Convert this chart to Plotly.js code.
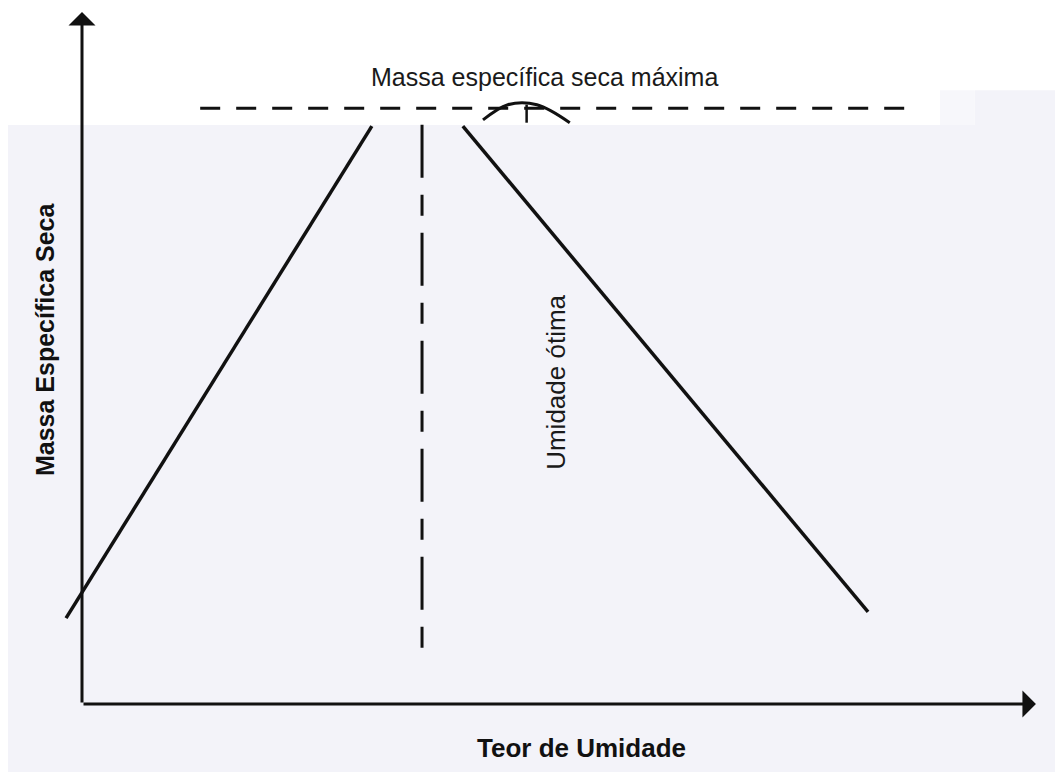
<!DOCTYPE html>
<html>
<head>
<meta charset="utf-8">
<script src="https://cdn.plot.ly/plotly-3.0.1.min.js"></script>
<style>
  html, body { margin: 0; padding: 0; background: #ffffff; }
  #chart { width: 1055px; height: 772px; }
</style>
</head>
<body>
<div id="chart"></div>
<script>
// schematic compaction curve (arbitrary units)
var dryMoisture = [-1.7, 30.9];
var dryDensity = [12.4, 83.5];
var wetMoisture = [40.6, 83.8];
var wetDensity = [83.5, 13.3];

var maxDensity = 86.1;
var maxDensityFrom = 12.6, maxDensityTo = 89.3;
var optMoisture = 36.25;
var optFrom = 6.4, optTo = 83.7;

// little bracket on top of the peak
var capMoisture = [42.75, 45.4, 48.5, 52.0];
var capDensity = [84.4, 86.6, 86.6, 84.0];
var tickMoisture = [47.4, 47.4];
var tickDensity = [84.0, 86.6];

var axisEndX = 101.7;
var axisEndY = 100;

var ink = '#111111';

var traces = [
  {x: dryMoisture, y: dryDensity, mode: 'lines', line: {color: ink, width: 3.5}},
  {x: wetMoisture, y: wetDensity, mode: 'lines', line: {color: ink, width: 3.5}},
  {x: [maxDensityFrom, maxDensityTo], y: [maxDensity, maxDensity], mode: 'lines',
   line: {color: ink, width: 3, dash: '20px,16px'}},
  {x: [optMoisture, optMoisture], y: [optTo, optFrom], mode: 'lines',
   line: {color: ink, width: 3, dash: '53px,17px,21px,17px'}},
  {x: capMoisture, y: capDensity, mode: 'lines', line: {color: ink, width: 3, shape: 'spline'}},
  {x: tickMoisture, y: tickDensity, mode: 'lines', line: {color: ink, width: 2.5}}
];

var face = 'Liberation Sans, Arial, sans-serif';

var layout = {
  width: 1055,
  height: 772,
  margin: {l: 0, r: 0, t: 0, b: 0},
  paper_bgcolor: '#ffffff',
  plot_bgcolor: 'rgba(0,0,0,0)',
  showlegend: false,
  xaxis: {range: [-8.742, 103.73], visible: false, fixedrange: true},
  yaxis: {range: [-9.827, 101.73], visible: false, fixedrange: true},
  shapes: [
    {type: 'rect', xref: 'paper', yref: 'paper', x0: 0.0076, x1: 1, y0: 0, y1: 0.838,
     fillcolor: '#f3f3f9', line: {width: 0}, layer: 'below'},
    {type: 'rect', xref: 'paper', yref: 'paper', x0: 0.924, x1: 1, y0: 0.838, y1: 0.883,
     fillcolor: '#f3f3f9', line: {width: 0}, layer: 'below'},
    {type: 'rect', xref: 'paper', yref: 'paper', x0: 0.891, x1: 0.924, y0: 0.838, y1: 0.883,
     fillcolor: '#f7f7fb', line: {width: 0}, layer: 'below'}
  ],
  annotations: [
    // axes with arrow heads
    {x: 0, y: axisEndY, ax: 0, ay: 0, xref: 'x', yref: 'y', axref: 'x', ayref: 'y',
     showarrow: true, arrowhead: 1, arrowsize: 1.5, arrowwidth: 3, arrowcolor: ink, text: ''},
    {x: axisEndX, y: 0, ax: 0, ay: 0, xref: 'x', yref: 'y', axref: 'x', ayref: 'y',
     showarrow: true, arrowhead: 1, arrowsize: 1.5, arrowwidth: 3, arrowcolor: ink, text: ''},
    {x: 49.3, y: 90.6, xref: 'x', yref: 'y', showarrow: false,
     text: 'Massa específica seca máxima', font: {family: face, color: '#1a1a1a', size: 25}},
    {x: 50.6, y: 46.5, xref: 'x', yref: 'y', showarrow: false, textangle: -90,
     text: 'Umidade ótima', font: {family: face, color: '#1a1a1a', size: 26}},
    {x: 53.2, y: -6.4, xref: 'x', yref: 'y', showarrow: false,
     text: 'Teor de Umidade', font: {family: face, color: '#111111', size: 26, weight: 'bold'}},
    {x: -3.94, y: 52.6, xref: 'x', yref: 'y', showarrow: false, textangle: -90,
     text: 'Massa Específica Seca', font: {family: face, color: '#111111', size: 25, weight: 'bold'}}
  ]
};

Plotly.newPlot('chart', traces, layout, {displayModeBar: false, staticPlot: true});
</script>
</body>
</html>
